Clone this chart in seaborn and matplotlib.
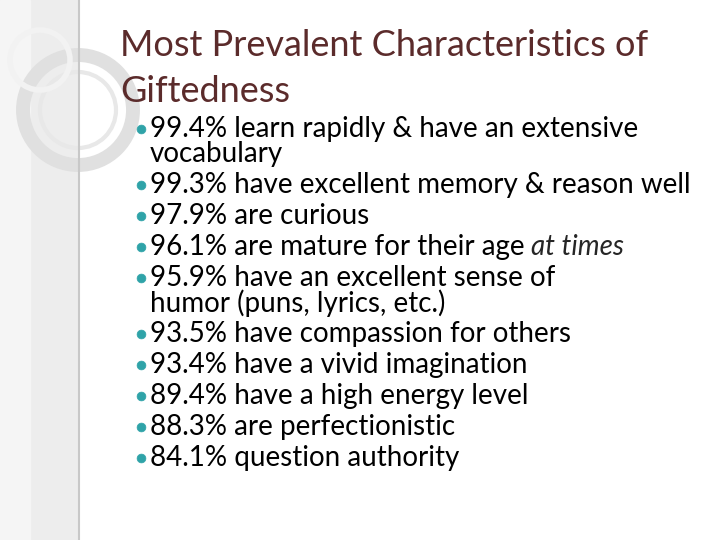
import matplotlib
matplotlib.use("Agg")
import matplotlib.pyplot as plt
import seaborn as sns
import pandas as pd
from matplotlib.patches import Rectangle, Circle

title_lines = ["Most Prevalent Characteristics of", "Giftedness"]
percents = ["99.4%", "99.3%", "97.9%", "96.1%", "95.9%", "93.5%", "93.4%", "89.4%", "88.3%", "84.1%"]
items = [
    ["learn rapidly & have an extensive", "vocabulary"],
    ["have excellent memory & reason well"],
    ["are curious"],
    ["are mature for their age"],
    ["have an excellent sense of", "humor (puns, lyrics, etc.)"],
    ["have compassion for others"],
    ["have a vivid imagination"],
    ["have a high energy level"],
    ["are perfectionistic"],
    ["question authority"],
]
italic_tail = {3: "at times"}

sns.set_theme(style="white")
plt.rcParams["font.family"] = ["Lato", "DejaVu Sans"]

fig = plt.figure(figsize=(7.2, 5.4), dpi=100)
ax = fig.add_axes([0, 0, 1, 1])
ax.set_xlim(0, 720)
ax.set_ylim(540, 0)
ax.axis("off")

# left decorative strip
ax.add_patch(Rectangle((0, 0), 78, 540, color="#ededed", zorder=0))
ax.add_patch(Rectangle((0, 0), 30, 540, color="#f5f5f5", zorder=0))
ax.plot([79, 79], [0, 540], color="#c8c8c8", lw=1.5)
ax.add_patch(Circle((78, 110), 55, fill=False, ec="#e0e0e0", lw=10))
ax.add_patch(Circle((78, 110), 38, fill=False, ec="#e8e8e8", lw=3))
ax.add_patch(Circle((40, 60), 30, fill=False, ec="#f2f2f2", lw=4))

title_col = "#5b2b2b"
ax.text(120, 45, title_lines[0], fontsize=26, color=title_col, va="center")
ax.text(120, 92, title_lines[1], fontsize=26, color=title_col, va="center")

fs = 20
rows = []
y = 129
line_h = 31
for i, (p, lines) in enumerate(zip(percents, items)):
    rows.append({"x": 141, "y": y})
    ax.text(150, y, f"{p} {lines[0]}", fontsize=fs, color="black", va="center")
    if i in italic_tail:
        fig.canvas.draw()
        t = ax.texts[-1]
        bb = t.get_window_extent()
        xend = ax.transData.inverted().transform((bb.x1, bb.y0))[0]
        ax.text(xend + 6, y, italic_tail[i], fontsize=fs, style="italic", va="center")
    y += 25 if len(lines) > 1 else line_h
    for extra in lines[1:]:
        ax.text(150, y, extra, fontsize=fs, color="black", va="center")
        y += line_h

df = pd.DataFrame(rows)
sns.scatterplot(data=df, x="x", y="y", ax=ax, s=40, color="#2fa3a8", edgecolor="#2fa3a8", zorder=3)
ax.set_xlim(0, 720)
ax.set_ylim(540, 0)
ax.axis("off")

fig.savefig("out.png", dpi=100)
